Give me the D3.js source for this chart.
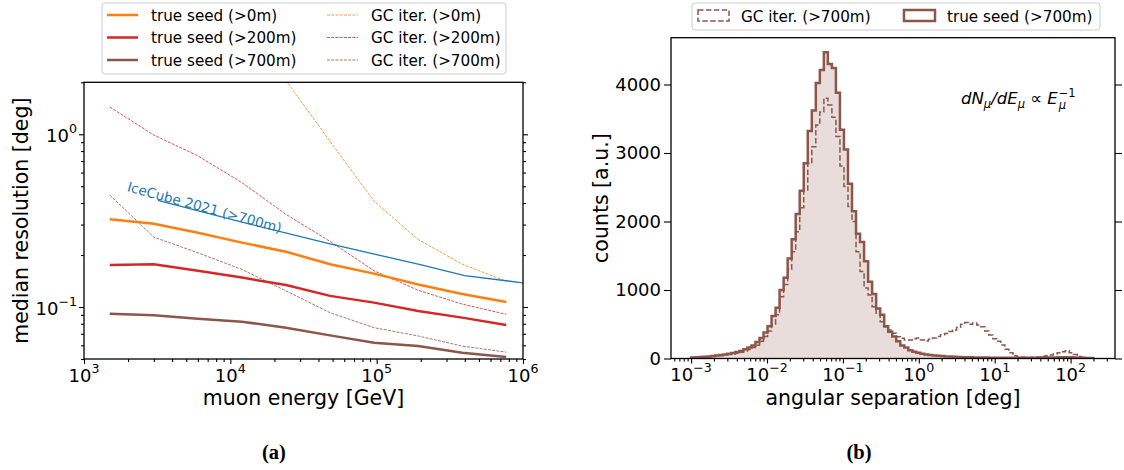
<!DOCTYPE html>
<html>
<head>
<meta charset="utf-8">
<script src="https://cdn.jsdelivr.net/npm/d3@7"></script>
<style>
  body { margin: 0; background: #fff; }
  svg text { font-family: "DejaVu Sans", sans-serif; fill: #000; }
</style>
</head>
<body>
<svg id="fig" width="1124" height="470"></svg>
<script>
// ---- (a) median resolution vs muon energy ----
const energies = [1500, 3000, 6000, 12000, 24000, 48000, 96000, 192000, 384000, 768000];
const trueSeed0 = [0.322, 0.303, 0.269, 0.236, 0.209, 0.177, 0.156, 0.135, 0.119, 0.107];
const trueSeed200 = [0.175, 0.177, 0.162, 0.148, 0.134, 0.116, 0.106, 0.0948, 0.0868, 0.0787];
const trueSeed700 = [0.0915, 0.0895, 0.0856, 0.0822, 0.0759, 0.0685, 0.0621, 0.0594, 0.0544, 0.0513];
const gcIter0 = [9.0, 6.5, 4.6, 3.2, 2.05, 0.91, 0.41, 0.246, 0.177, 0.141];
const gcIter200 = [1.44, 0.99, 0.75, 0.525, 0.344, 0.24, 0.162, 0.125, 0.104, 0.0907];
const gcIter700 = [0.445, 0.254, 0.206, 0.165, 0.124, 0.0927, 0.0759, 0.068, 0.0594, 0.0548];
const iceCubeE = [3200, 12000, 48000, 192000, 400000, 1000000];
const iceCubeRes = [0.415, 0.31, 0.232, 0.177, 0.152, 0.138];

// ---- (b) angular separation histogram (log bins 1e-3 .. 10^2.3) ----
const binLogMin = -3, binLogMax = 2.3, nBins = 100;
const trueSeedCounts = [
  15, 18, 22, 26, 30, 36, 42, 50, 58, 68,
  80, 95, 110, 135, 160, 190, 240, 300, 380, 470,
  620, 740, 1000, 1180, 1460, 1740, 2110, 2450, 2850, 3320,
  3620, 4020, 4210, 4470, 4300, 4240, 3880, 3340, 3050, 2550,
  2150, 1820, 1700, 1420, 1120, 940, 730, 640, 470, 390,
  320, 250, 190, 160, 120, 100, 85, 70, 60, 50,
  45, 40, 35, 30, 28, 25, 22, 20, 18, 17,
  16, 15, 14, 13, 12, 12, 11, 11, 10, 10,
  10, 10, 10, 11, 11, 12, 12, 13, 14, 15,
  16, 17, 18, 18, 17, 15, 12, 10, 8, 6
];
const gcIterCounts = [
  12, 15, 18, 22, 26, 30, 36, 42, 50, 58,
  66, 78, 92, 110, 130, 160, 195, 250, 320, 400,
  500, 640, 900, 1080, 1300, 1560, 1850, 2200, 2460, 2850,
  3090, 3410, 3600, 3800, 3700, 3520, 3240, 2810, 2510, 2220,
  2000, 1560, 1270, 1030, 927, 757, 660, 538, 465, 416,
  367, 319, 294, 270, 270, 290, 300, 270, 255, 280,
  300, 320, 345, 365, 395, 415, 455, 500, 525, 500,
  520, 490, 465, 400, 343, 290, 250, 197, 134, 85,
  40, 25, 18, 15, 15, 18, 22, 30, 40, 51,
  66, 85, 100, 114, 85, 60, 30, 20, 12, 8
];
const countTicks = [0, 1000, 2000, 3000, 4000];

const orange = '#ff7f0e', red = '#d62728', brown = '#8c564b', blue = '#1f77b4';
const labelSize = 20.5, tickSize = 18;

const svg = d3.select('#fig');
svg.append('rect').attr('width', 1124).attr('height', 470).attr('fill', '#fff');

const A = { left: 84, right: 523, top: 82.3, bottom: 359 };
const B = { left: 671, right: 1115, top: 37.7, bottom: 358.5 };

function logTicks(domain) {
  const lo = Math.log10(domain[0]), hi = Math.log10(domain[1]);
  const majors = [], minors = [];
  for (let p = Math.floor(lo) - 1; p <= Math.ceil(hi); p++) {
    const v = Math.pow(10, p);
    if (Math.log10(v) >= lo - 1e-9 && Math.log10(v) <= hi + 1e-9) majors.push(v);
    for (let k = 2; k <= 9; k++) {
      const m = k * v;
      if (Math.log10(m) >= lo - 1e-9 && Math.log10(m) <= hi + 1e-9) minors.push(m);
    }
  }
  return { majors, minors };
}

function powLabel(sel, p, size) {
  sel.append('tspan').text('10');
  sel.append('tspan')
    .attr('dy', -0.5 * size)
    .attr('font-size', size * 0.7)
    .text(p < 0 ? '\u2212' + (-p) : p);
}

function frame(box) {
  svg.append('rect')
    .attr('x', box.left).attr('y', box.top)
    .attr('width', box.right - box.left).attr('height', box.bottom - box.top)
    .attr('fill', 'none').attr('stroke', '#000').attr('stroke-width', 1.3);
}

function clip(id, box) {
  svg.append('clipPath').attr('id', id).append('rect')
    .attr('x', box.left).attr('y', box.top)
    .attr('width', box.right - box.left).attr('height', box.bottom - box.top);
}

const tickStyle = g => g.call(s => s.select('.domain').remove())
  .selectAll('line').attr('stroke', '#000').attr('stroke-width', 1.1);

// ================= panel (a) =================
const xA = d3.scaleLog().domain([1e3, 1e6]).range([A.left, A.right]);
const yA = d3.scaleLog().domain([0.05, 2]).range([A.bottom, A.top]);
clip('clipA', A);

const xtA = logTicks(xA.domain());
svg.append('g').attr('transform', `translate(0,${A.bottom})`)
  .call(d3.axisBottom(xA).tickValues(xtA.majors).tickSize(5).tickFormat('')).call(tickStyle);
svg.append('g').attr('transform', `translate(0,${A.bottom})`)
  .call(d3.axisBottom(xA).tickValues(xtA.minors).tickSize(3).tickFormat('')).call(tickStyle);
xtA.majors.forEach(v => {
  svg.append('text').attr('x', xA(v)).attr('y', A.bottom + 22.5)
    .attr('text-anchor', 'middle').attr('font-size', tickSize)
    .call(powLabel, Math.round(Math.log10(v)), tickSize);
});

const ytA = logTicks(yA.domain());
[[d3.axisLeft, A.left], [d3.axisRight, A.right]].forEach(([ax, x0]) => {
  svg.append('g').attr('transform', `translate(${x0},0)`)
    .call(ax(yA).tickValues(ytA.majors).tickSize(5).tickFormat('')).call(tickStyle);
  svg.append('g').attr('transform', `translate(${x0},0)`)
    .call(ax(yA).tickValues(ytA.minors).tickSize(3).tickFormat('')).call(tickStyle);
});
ytA.majors.forEach(v => {
  svg.append('text').attr('x', A.left - 7).attr('y', yA(v) + 8)
    .attr('text-anchor', 'end').attr('font-size', tickSize)
    .call(powLabel, Math.round(Math.log10(v)), tickSize);
});

const lineA = d3.line().x(d => xA(d[0])).y(d => yA(d[1]));
const plotA = svg.append('g').attr('clip-path', 'url(#clipA)');

const seriesA = [
  { vals: gcIter0, color: orange, dashed: true },
  { vals: gcIter200, color: red, dashed: true },
  { vals: gcIter700, color: brown, dashed: true },
  { vals: trueSeed0, color: orange, dashed: false },
  { vals: trueSeed200, color: red, dashed: false },
  { vals: trueSeed700, color: brown, dashed: false }
];
seriesA.forEach(s => {
  plotA.append('path')
    .datum(energies.map((e, i) => [e, s.vals[i]]))
    .attr('fill', 'none')
    .attr('stroke', s.color)
    .attr('stroke-width', s.dashed ? 0.8 : 2.5)
    .attr('stroke-dasharray', s.dashed ? '2.96,1.28' : null)
    .attr('d', lineA);
});
plotA.append('path')
  .datum(iceCubeE.map((e, i) => [e, iceCubeRes[i]]))
  .attr('fill', 'none').attr('stroke', blue).attr('stroke-width', 1.3)
  .attr('d', lineA);

// IceCube label along its line
const ang = Math.atan2(yA(iceCubeRes[2]) - yA(iceCubeRes[0]), xA(iceCubeE[2]) - xA(iceCubeE[0])) * 180 / Math.PI;
svg.append('text')
  .attr('transform', `translate(${xA(1950)},${yA(0.47)}) rotate(${ang + 1})`)
  .attr('font-size', 13.6).style('fill', blue)
  .text('IceCube 2021 (>700m)');

frame(A);

svg.append('text').attr('x', (A.left + A.right) / 2).attr('y', 405)
  .attr('text-anchor', 'middle').attr('font-size', labelSize).text('muon energy [GeV]');
svg.append('text')
  .attr('transform', `translate(27.5,${(A.top + A.bottom) / 2}) rotate(-90)`)
  .attr('text-anchor', 'middle').attr('font-size', labelSize).text('median resolution [deg]');

// legend (a)
const legA = svg.append('g');
legA.append('rect').attr('x', 102).attr('y', 3).attr('width', 404).attr('height', 71).attr('rx', 3)
  .attr('fill', '#fff').attr('fill-opacity', 0.8).attr('stroke', '#ccc').attr('stroke-width', 1);
const legItemsA = [
  { label: 'true seed (>0m)', color: orange, dashed: false, col: 0, row: 0 },
  { label: 'true seed (>200m)', color: red, dashed: false, col: 0, row: 1 },
  { label: 'true seed (>700m)', color: brown, dashed: false, col: 0, row: 2 },
  { label: 'GC iter. (>0m)', color: orange, dashed: true, col: 1, row: 0 },
  { label: 'GC iter. (>200m)', color: red, dashed: true, col: 1, row: 1 },
  { label: 'GC iter. (>700m)', color: brown, dashed: true, col: 1, row: 2 }
];
legItemsA.forEach(d => {
  const x0 = d.col === 0 ? 107 : 327;
  const yc = 15 + d.row * 22.5;
  legA.append('line').attr('x1', x0).attr('x2', x0 + 31).attr('y1', yc).attr('y2', yc)
    .attr('stroke', d.color).attr('stroke-width', d.dashed ? 0.8 : 2.5)
    .attr('stroke-dasharray', d.dashed ? '2.96,1.28' : null);
  legA.append('text').attr('x', x0 + 44).attr('y', yc + 5.5).attr('font-size', 15.2).text(d.label);
});

svg.append('text').attr('x', 274).attr('y', 459).attr('text-anchor', 'middle')
  .style('font-family', '"Liberation Serif", serif').attr('font-weight', 'bold').attr('font-size', 20.5)
  .text('(a)');

// ================= panel (b) =================
const xB = d3.scaleLog().domain([Math.pow(10, -3.265), Math.pow(10, 2.585)]).range([B.left, B.right]);
const yB = d3.scaleLinear().domain([0, 4683]).range([B.bottom, B.top]);
clip('clipB', B);

const edges = d3.range(nBins + 1).map(i => Math.pow(10, binLogMin + i * (binLogMax - binLogMin) / nBins));
function stepPoints(counts) {
  const pts = [[edges[0], 0]];
  counts.forEach((c, i) => pts.push([edges[i], c]));
  pts.push([edges[nBins], counts[nBins - 1]]);
  pts.push([edges[nBins], 0]);
  return pts;
}
const stepLine = d3.line().x(d => xB(d[0])).y(d => yB(d[1])).curve(d3.curveStepAfter);

const plotB = svg.append('g').attr('clip-path', 'url(#clipB)');
plotB.append('path').datum(stepPoints(trueSeedCounts))
  .attr('fill', brown).attr('fill-opacity', 0.2).attr('stroke', 'none').attr('d', stepLine);
plotB.append('path').datum(stepPoints(gcIterCounts))
  .attr('fill', 'none').attr('stroke', brown).attr('stroke-width', 1.5)
  .attr('stroke-dasharray', '5.5,2.4').attr('d', stepLine);
plotB.append('path').datum(stepPoints(trueSeedCounts))
  .attr('fill', 'none').attr('stroke', brown).attr('stroke-width', 2.5)
  .attr('stroke-linejoin', 'miter').attr('d', stepLine);

const xtB = logTicks(xB.domain());
svg.append('g').attr('transform', `translate(0,${B.bottom})`)
  .call(d3.axisBottom(xB).tickValues(xtB.majors).tickSize(5).tickFormat('')).call(tickStyle);
svg.append('g').attr('transform', `translate(0,${B.bottom})`)
  .call(d3.axisBottom(xB).tickValues(xtB.minors).tickSize(3).tickFormat('')).call(tickStyle);
xtB.majors.forEach(v => {
  svg.append('text').attr('x', xB(v)).attr('y', B.bottom + 22.5)
    .attr('text-anchor', 'middle').attr('font-size', tickSize)
    .call(powLabel, Math.round(Math.log10(v)), tickSize);
});

[[d3.axisLeft, B.left], [d3.axisRight, B.right]].forEach(([ax, x0]) => {
  svg.append('g').attr('transform', `translate(${x0},0)`)
    .call(ax(yB).tickValues(countTicks).tickSize(7).tickFormat('')).call(tickStyle);
});
countTicks.forEach(v => {
  svg.append('text').attr('x', B.left - 10).attr('y', yB(v) + 6.5)
    .attr('text-anchor', 'end').attr('font-size', tickSize).text(v);
});

frame(B);

svg.append('text').attr('x', (B.left + B.right) / 2).attr('y', 405)
  .attr('text-anchor', 'middle').attr('font-size', labelSize).text('angular separation [deg]');
svg.append('text')
  .attr('transform', `translate(607.5,${(B.top + B.bottom) / 2}) rotate(-90)`)
  .attr('text-anchor', 'middle').attr('font-size', labelSize).text('counts [a.u.]');

// spectrum annotation
const ann = svg.append('text').attr('x', 961).attr('y', 104).attr('font-size', 16.5).attr('font-style', 'italic');
ann.append('tspan').text('dN');
ann.append('tspan').attr('dy', 4).attr('font-size', 11.5).text('μ');
ann.append('tspan').attr('dy', -4).text('/dE');
ann.append('tspan').attr('dy', 4).attr('font-size', 11.5).text('μ');
ann.append('tspan').attr('dy', -4).attr('font-style', 'normal').text(' \u221d ');
ann.append('tspan').text('E');
const bb = ann.node().getBBox();
svg.append('text').attr('x', bb.x + bb.width + 0.5).attr('y', 96.5).attr('font-size', 11.5).text('\u22121');
svg.append('text').attr('x', bb.x + bb.width + 0.5).attr('y', 108.5).attr('font-size', 11.5)
  .attr('font-style', 'italic').text('μ');

// legend (b)
const legB = svg.append('g');
legB.append('rect').attr('x', 692).attr('y', 3).attr('width', 408).attr('height', 27).attr('rx', 3)
  .attr('fill', '#fff').attr('fill-opacity', 0.8).attr('stroke', '#ccc').attr('stroke-width', 1);
legB.append('rect').attr('x', 698).attr('y', 10).attr('width', 31).attr('height', 11)
  .attr('fill', 'none').attr('stroke', brown).attr('stroke-width', 1.5).attr('stroke-dasharray', '5.5,2.4');
legB.append('text').attr('x', 741).attr('y', 21.5).attr('font-size', 15.2).text('GC iter. (>700m)');
legB.append('rect').attr('x', 904).attr('y', 10).attr('width', 31).attr('height', 11)
  .attr('fill', 'none').attr('stroke', brown).attr('stroke-width', 2.5);
legB.append('text').attr('x', 947).attr('y', 21.5).attr('font-size', 15.2).text('true seed (>700m)');

svg.append('text').attr('x', 859).attr('y', 459).attr('text-anchor', 'middle')
  .style('font-family', '"Liberation Serif", serif').attr('font-weight', 'bold').attr('font-size', 20.5)
  .text('(b)');
</script>
</body>
</html>
